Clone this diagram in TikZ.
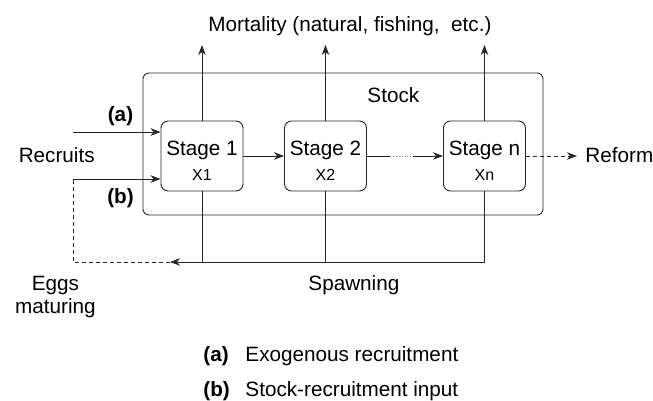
\documentclass[tikz,border=0pt]{standalone}
\usepackage{fontspec}
\setmainfont{Liberation Sans}
\usetikzlibrary{arrows.meta}
\begin{document}
\begin{tikzpicture}[x=1pt,y=-1pt, line width=0.9pt, draw=black!85,
  arr/.style={-{Stealth[length=10pt,width=7.5pt,inset=3pt]}},
  stagebox/.style={draw, rounded corners=7pt, minimum width=82pt, minimum height=70pt, inner sep=0pt},
  lbl/.style={inner sep=0pt, font=\fontsize{20.7}{23}\selectfont},
  sublbl/.style={inner sep=0pt, font=\fontsize{16}{18}\selectfont},
  dsh/.style={dash pattern=on 4pt off 3pt},
]
\useasboundingbox (0,0) rectangle (653,401);
% stock box
\node[draw, rounded corners=6pt, minimum width=400pt, minimum height=142pt, inner sep=0pt] (stock) at (343,144) {};
\node[lbl, anchor=base west] (stocklbl) at (367,103) {Stock};
% stages
\node[stagebox] (s1) at (202,156) {};
\node[stagebox] (s2) at (325.5,156) {};
\node[stagebox] (sn) at (484.5,156) {};
\node[lbl, anchor=base] (t1) at (202,156) {Stage 1};
\node[sublbl, anchor=base] (x1) at (202,180) {X1};
\node[lbl, anchor=base] (t2) at (325.5,156) {Stage 2};
\node[sublbl, anchor=base] (x2) at (325.5,180) {X2};
\node[lbl, anchor=base] (tn) at (484.5,156) {Stage n};
\node[sublbl, anchor=base] (xn) at (484.5,180) {Xn};
% mortality
\node[lbl, anchor=base west] (mort) at (208,32) {Mortality (natural, fishing,\ \ etc.)};
\coordinate (m1) at (202,45);
\coordinate (m2) at (325.5,45);
\coordinate (mn) at (484.5,45);
\draw[arr] (s1.north) -- (m1);
\draw[arr] (s2.north) -- (m2);
\draw[arr] (sn.north) -- (mn);
% stage chain
\draw[arr] (s1.east) -- (s2.west);
\coordinate (d1) at (390,156);
\coordinate (d2) at (413,156);
\draw (s2.east) -- (d1);
\draw[dotted, gray] (d1) -- (d2);
\draw[arr] (d2) -- (sn.west);
% reform
\coordinate (rf) at (577,156);
\draw[arr, dsh] (sn.east) -- (rf);
\node[lbl, anchor=base west] (reform) at (585,162) {Reform};
% recruits
\node[lbl, anchor=base west] (recr) at (18.3,162) {Recruits};
\coordinate (ra) at (73,132);
\coordinate (rb) at (73,179);
\draw[arr] (ra) -- (s1.west |- ra);
\draw[arr] (rb) -- (s1.west |- rb);
\node[lbl, anchor=base, font=\fontsize{20.7}{23}\selectfont\bfseries] (la) at (120.5,121.5) {(a)};
\node[lbl, anchor=base, font=\fontsize{20.7}{23}\selectfont\bfseries] (lb) at (120.5,203) {(b)};
% spawning loop
\coordinate (sp) at (484.5,262);
\coordinate (eg) at (170,262);
\coordinate (ec) at (73,262);
\draw (s1.south) -- (s1.south |- sp);
\draw (s2.south) -- (s2.south |- sp);
\draw (sn.south) -- (sp);
\draw[arr] (sp) -- (eg);
\draw[dsh] (eg) -- (ec) -- (rb);
\node[lbl, anchor=base west] (spawn) at (308,290.5) {Spawning};
\node[lbl, anchor=base, align=center] (eggs) at (55.5,313) {Eggs\\maturing};
% legend
\node[lbl, anchor=base west, font=\fontsize{20.7}{23}\selectfont\bfseries] (lga) at (203,361.5) {(a)};
\node[lbl, anchor=base west] (lgat) at (245,361.5) {Exogenous recruitment};
\node[lbl, anchor=base west, font=\fontsize{20.7}{23}\selectfont\bfseries] (lgb) at (203,396) {(b)};
\node[lbl, anchor=base west] (lgbt) at (245,396) {Stock-recruitment input};
\end{tikzpicture}
\end{document}
